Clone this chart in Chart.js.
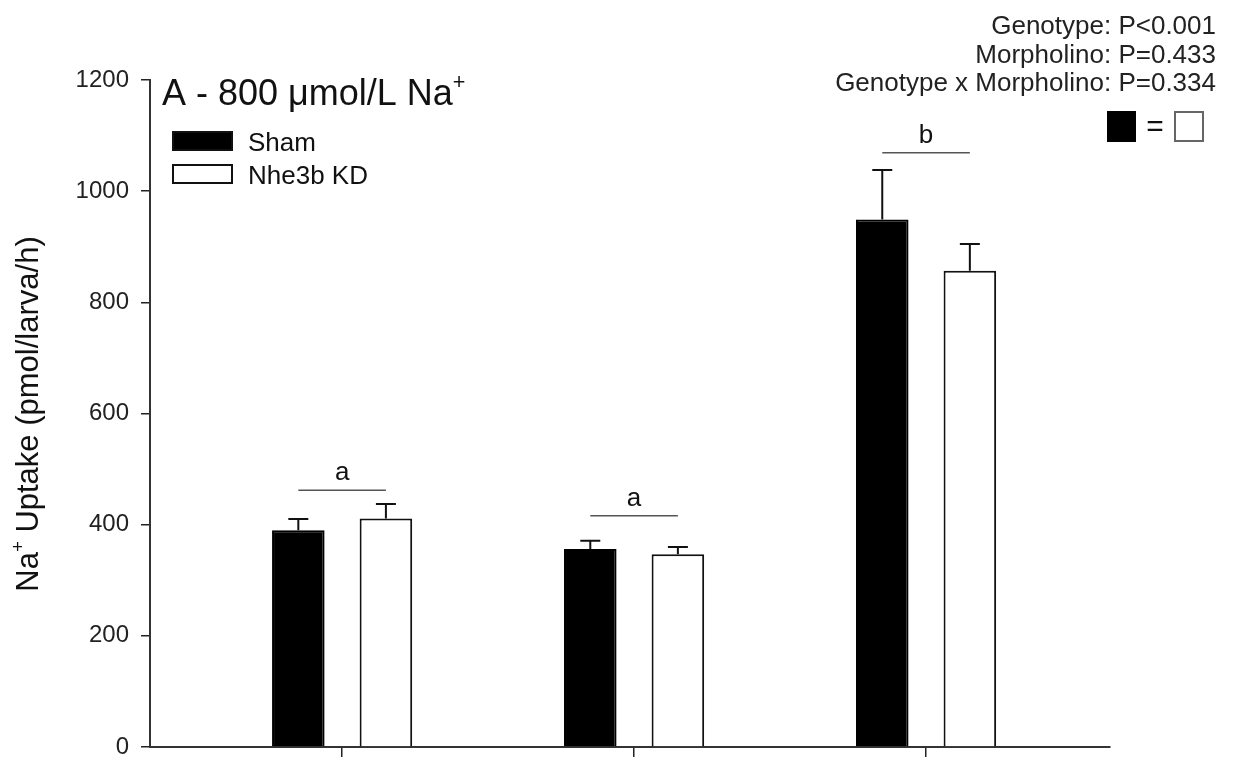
<!DOCTYPE html>
<html>
  <head>
    <title>Na+ Uptake</title>
    <script src="https://cdn.jsdelivr.net/npm/chart.js"></script>
    <style>
      body { margin: 0; background: #fff; }
      #wrap { width: 1233px; height: 762px; }
    </style>
  </head>
  <body>
    <div id="wrap"><canvas id="uptakeChart"></canvas></div>

    <script>
      const categories = ['Group 1', 'Group 2', 'Group 3'];
      const shamValues = [390, 356, 949];
      const shamErrors = [20, 15, 89];
      const kdValues = [411, 347, 857];
      const kdErrors = [26, 13, 48];
      const sigLetters = ['a', 'a', 'b'];
      const sigLevels = [462, 416, 1069];
      const statsLines = [
        'Genotype: P<0.001',
        'Morpholino: P=0.433',
        'Genotype x Morpholino: P=0.334',
      ];

      const FONT = "'Liberation Sans', Arial, Helvetica, sans-serif";

      // text with superscript parts: [[text, isSup], ...]
      function drawRich(ctx, parts, x, y, size, align) {
        let total = 0;
        const widths = parts.map((p) => {
          ctx.font = (p[1] ? size * 0.6 : size) + 'px ' + FONT;
          const w = ctx.measureText(p[0]).width;
          total += w;
          return w;
        });
        let cx = align === 'center' ? x - total / 2 : x;
        ctx.textAlign = 'left';
        ctx.textBaseline = 'alphabetic';
        parts.forEach((p, i) => {
          ctx.font = (p[1] ? size * 0.6 : size) + 'px ' + FONT;
          ctx.fillText(p[0], cx, p[1] ? y - size * 0.45 : y);
          cx += widths[i];
        });
      }

      const extras = {
        id: 'extras',
        afterDatasetsDraw(chart) {
          const ctx = chart.ctx;
          const y = chart.scales.y;
          ctx.save();

          // error bars (upper only)
          chart.data.datasets.forEach((ds, d) => {
            const meta = chart.getDatasetMeta(d);
            meta.data.forEach((bar, i) => {
              const top = y.getPixelForValue(ds.data[i].y + ds.errors[i]);
              ctx.strokeStyle = '#111';
              ctx.lineWidth = 2;
              ctx.beginPath();
              ctx.moveTo(bar.x, bar.y);
              ctx.lineTo(bar.x, top);
              ctx.moveTo(bar.x - 10, top);
              ctx.lineTo(bar.x + 10, top);
              ctx.stroke();
            });
          });

          // significance lines and letters
          const sham = chart.getDatasetMeta(0).data;
          const kd = chart.getDatasetMeta(1).data;
          sigLevels.forEach((lvl, i) => {
            const py = y.getPixelForValue(lvl);
            ctx.strokeStyle = '#555';
            ctx.lineWidth = 1.5;
            ctx.beginPath();
            ctx.moveTo(sham[i].x, py);
            ctx.lineTo(kd[i].x, py);
            ctx.stroke();
            ctx.fillStyle = '#111';
            ctx.font = '26px ' + FONT;
            ctx.textAlign = 'center';
            ctx.textBaseline = 'alphabetic';
            ctx.fillText(sigLetters[i], (sham[i].x + kd[i].x) / 2, py - 10);
          });

          // panel title
          ctx.fillStyle = '#111';
          drawRich(ctx, [['A - 800 \u03bcmol/L Na', false], ['+', true]], 162, 105, 36, 'left');

          // legend
          chart.data.datasets.forEach((ds, d) => {
            const by = 131 + d * 33;
            ctx.fillStyle = ds.backgroundColor;
            ctx.fillRect(172, by, 61, 20);
            ctx.strokeStyle = '#111';
            ctx.lineWidth = 2;
            ctx.strokeRect(173, by + 1, 59, 18);
            ctx.fillStyle = '#111';
            ctx.font = '26px ' + FONT;
            ctx.textAlign = 'left';
            ctx.fillText(ds.label, 248, by + 20);
          });

          // stats text, top right
          ctx.font = '26px ' + FONT;
          ctx.textAlign = 'right';
          ctx.fillStyle = '#222';
          statsLines.forEach((t, i) => ctx.fillText(t, 1216, 34 + i * 28.5));

          // black = white
          ctx.fillStyle = '#000';
          ctx.fillRect(1107, 111, 29, 31);
          ctx.strokeStyle = '#666';
          ctx.lineWidth = 2;
          ctx.strokeRect(1175, 112, 28, 29);
          ctx.fillStyle = '#111';
          ctx.font = '30px ' + FONT;
          ctx.textAlign = 'center';
          ctx.textBaseline = 'middle';
          ctx.fillText('=', 1155, 128);

          // y axis title
          ctx.save();
          ctx.translate(38, 414);
          ctx.rotate(-Math.PI / 2);
          ctx.fillStyle = '#111';
          drawRich(ctx, [['Na', false], ['+', true], [' Uptake (pmol/larva/h)', false]], 0, 0, 31, 'center');
          ctx.restore();

          ctx.restore();
        },
      };

      const ctx = document.getElementById('uptakeChart').getContext('2d');
      const chart = new Chart(ctx, {
        type: 'bar',
        data: {
          datasets: [
            {
              label: 'Sham',
              data: shamValues.map((v, i) => ({ x: i, y: v })),
              errors: shamErrors,
              backgroundColor: '#000',
              borderColor: '#000',
              borderWidth: 2,
            },
            {
              label: 'Nhe3b KD',
              data: kdValues.map((v, i) => ({ x: i, y: v })),
              errors: kdErrors,
              backgroundColor: '#fff',
              borderColor: '#111',
              borderWidth: 2,
            },
          ],
        },
        options: {
          responsive: true,
          maintainAspectRatio: false,
          animation: false,
          categoryPercentage: 0.6,
          barPercentage: 0.6,
          layout: { padding: { top: 80, right: 123, bottom: 0, left: 0 } },
          plugins: {
            legend: { display: false },
            tooltip: { enabled: false },
          },
          scales: {
            x: {
              type: 'linear',
              offset: false,
              min: -0.658,
              max: 2.63,
              afterBuildTicks: (s) => {
                s.ticks = categories.map((c, i) => ({ value: i }));
              },
              afterFit: (s) => {
                s.height = 15;
                s.paddingLeft = 0;
                s.paddingRight = 0;
              },
              ticks: { display: false },
              grid: {
                offset: false,
                drawOnChartArea: false,
                drawTicks: true,
                tickLength: 10,
                color: '#222',
                lineWidth: 1.5,
              },
              border: { display: true, color: '#333', width: 2 },
            },
            y: {
              min: 0,
              max: 1200,
              ticks: {
                stepSize: 200,
                padding: 12,
                color: '#222',
                font: { family: FONT, size: 24 },
                callback: (v) => String(v),
              },
              afterFit: (s) => {
                s.width = 150;
                s.paddingTop = 0;
                s.paddingBottom = 0;
              },
              grid: {
                drawOnChartArea: false,
                drawTicks: true,
                tickLength: 9,
                color: '#222',
                lineWidth: 1.5,
              },
              border: { display: true, color: '#333', width: 2 },
            },
          },
        },
        plugins: [extras],
      });
    </script>
  </body>
</html>
